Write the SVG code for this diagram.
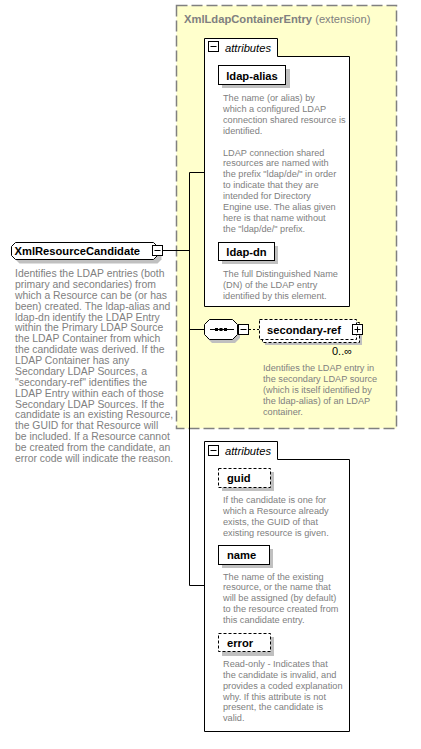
<svg xmlns="http://www.w3.org/2000/svg" width="421" height="749" viewBox="0 0 421 749">
<style>
.name{font-family:"Liberation Sans",Arial,sans-serif;font-weight:bold;font-size:11.2px;fill:#000}
.desc{font-family:"Liberation Sans",Arial,sans-serif;font-size:9.2px;fill:#808080}
.descL{font-family:"Liberation Sans",Arial,sans-serif;font-size:10.4px;fill:#808080}
.attr{font-family:"Liberation Sans",Arial,sans-serif;font-style:italic;font-size:11.2px;fill:#000}
.box{fill:#fff;stroke:#000;stroke-width:1}
.dbox{fill:#fff;stroke:#000;stroke-width:1;stroke-dasharray:3,2}
.shadow{fill:#c0c0c0}
.ln{stroke:#000;stroke-width:1;fill:none}
.icon{fill:#fff;stroke:#000;stroke-width:1}
</style>
<rect width="421" height="749" fill="#fff"/>
<g id="XmlLdapContainerEntry">
<rect x="176.5" y="5.5" width="220" height="423" fill="#ffffcc" stroke="#808080" stroke-width="1.5" stroke-dasharray="11,4"/>
<text x="184" y="23" font-family="Liberation Sans,Arial,sans-serif" font-size="11.2px" fill="#808080"><tspan font-weight="bold">XmlLdapContainerEntry</tspan> (extension)</text>
</g>
<g id="connectors">
<line class="ln" x1="162.5" y1="250.5" x2="189.5" y2="250.5"/>
<line class="ln" x1="189.5" y1="172.5" x2="189.5" y2="585.5"/>
<line class="ln" x1="189.5" y1="172.5" x2="204" y2="172.5"/>
<line class="ln" x1="189.5" y1="329.5" x2="204" y2="329.5"/>
<line class="ln" x1="189.5" y1="585.5" x2="204" y2="585.5"/>
<line class="ln" x1="249" y1="329.5" x2="259" y2="329.5" stroke-dasharray="2,2"/>
</g>
<g id="XmlResourceCandidate">
<path class="shadow" d="M19.5,246.5 H157.5 L161.5,250.5 V259.5 L157.5,263.5 H19.5 L15.5,259.5 V250.5 Z"/>
<path class="box" d="M15.5,242.5 H153.5 L157.5,246.5 V255.5 L153.5,259.5 H15.5 L11.5,255.5 V246.5 Z"/>
<text class="name" x="14.5" y="255">XmlResourceCandidate</text>
<rect class="icon" x="152.5" y="245.5" width="10" height="10"/>
<line class="ln" x1="154.5" y1="250.5" x2="160.5" y2="250.5" stroke-width="1.5"/>
<text class="descL" x="15" y="277"><tspan x="15">Identifies the LDAP entries (both</tspan><tspan x="15" dy="10.88">primary and secondaries) from</tspan><tspan x="15" dy="10.88">which a Resource can be (or has</tspan><tspan x="15" dy="10.88">been) created. The ldap-alias and</tspan><tspan x="15" dy="10.88">ldap-dn identify the LDAP Entry</tspan><tspan x="15" dy="10.88">within the Primary LDAP Source</tspan><tspan x="15" dy="10.88">the LDAP Container from which</tspan><tspan x="15" dy="10.88">the candidate was derived. If the</tspan><tspan x="15" dy="10.88">LDAP Container has any</tspan><tspan x="15" dy="10.88">Secondary LDAP Sources, a</tspan><tspan x="15" dy="10.88">"secondary-ref" identifies the</tspan><tspan x="15" dy="10.88">LDAP Entry within each of those</tspan><tspan x="15" dy="10.88">Secondary LDAP Sources. If the</tspan><tspan x="15" dy="10.88">candidate is an existing Resource,</tspan><tspan x="15" dy="10.88">the GUID for that Resource will</tspan><tspan x="15" dy="10.88">be included. If a Resource cannot</tspan><tspan x="15" dy="10.88">be created from the candidate, an</tspan><tspan x="15" dy="10.88">error code will indicate the reason.</tspan></text>
</g>
<g id="attributes1">
<path class="box" d="M204.5,306.5 V38.5 H277.5 V56.5 H349.5 V306.5 Z"/>
<rect class="icon" x="208.5" y="41.5" width="10" height="10"/>
<line class="ln" x1="210.5" y1="46.5" x2="216.5" y2="46.5" stroke-width="1.5"/>
<text class="attr" x="225" y="52">attributes</text>
</g>
<g id="ldap-alias">
<rect class="shadow" x="222" y="69" width="68" height="19"/>
<rect class="box" x="218.5" y="65.5" width="67" height="19"/>
<text class="name" x="252" y="79.5" text-anchor="middle">ldap-alias</text>
<text class="desc" x="223" y="101"><tspan x="223">The name (or alias) by</tspan><tspan x="223" dy="10.9">which a configured LDAP</tspan><tspan x="223" dy="10.9">connection shared resource is</tspan><tspan x="223" dy="10.9">identified.</tspan><tspan x="223" dy="21.8">LDAP connection shared</tspan><tspan x="223" dy="10.9">resources are named with</tspan><tspan x="223" dy="10.9">the prefix "ldap/de/" in order</tspan><tspan x="223" dy="10.9">to indicate that they are</tspan><tspan x="223" dy="10.9">intended for Directory</tspan><tspan x="223" dy="10.9">Engine use. The alias given</tspan><tspan x="223" dy="10.9">here is that name without</tspan><tspan x="223" dy="10.9">the "ldap/de/" prefix.</tspan></text>
</g>
<g id="ldap-dn">
<rect class="shadow" x="222" y="246" width="56" height="18"/>
<rect class="box" x="218.5" y="242.5" width="56" height="18"/>
<text class="name" x="246.5" y="255.5" text-anchor="middle">ldap-dn</text>
<text class="desc" x="223" y="277"><tspan x="223">The full Distinguished Name</tspan><tspan x="223" dy="10.9">(DN) of the LDAP entry</tspan><tspan x="223" dy="10.9">identified by this element.</tspan></text>
</g>
<g id="sequence">
<path class="shadow" d="M212,323 H235 L240,328 V338 L235,343 H212 L207,338 V328 Z"/>
<path class="box" d="M209.5,319.5 H232.5 L237.5,324.5 V334.5 L232.5,339.5 H209.5 L204.5,334.5 V324.5 Z"/>
<line class="ln" x1="210" y1="329.5" x2="234" y2="329.5"/>
<rect x="215" y="328" width="3" height="3" fill="#000"/>
<rect x="219.5" y="328" width="3" height="3" fill="#000"/>
<rect x="224" y="328" width="3" height="3" fill="#000"/>
<rect class="icon" x="238.5" y="324.5" width="10" height="10"/>
<line class="ln" x1="240.5" y1="329.5" x2="246.5" y2="329.5" stroke-width="1.5"/>
</g>
<g id="secondary-ref">
<rect class="shadow" x="265" y="324" width="97" height="21"/>
<rect class="dbox" x="262.5" y="322.5" width="97" height="20"/>
<rect class="dbox" x="259.5" y="319.5" width="97" height="20"/>
<text class="name" x="267" y="334">secondary-ref</text>
<rect class="icon" x="352.5" y="324.5" width="10" height="10"/>
<line class="ln" x1="354.5" y1="329.5" x2="360.5" y2="329.5" stroke-width="1.5"/>
<line class="ln" x1="357.5" y1="326.5" x2="357.5" y2="332.5" stroke-width="1.5"/>
<text x="332" y="355" font-family="Liberation Sans,Arial,sans-serif" font-size="11px" fill="#000">0..∞</text>
<text class="desc" x="263" y="371"><tspan x="263">Identifies the LDAP entry in</tspan><tspan x="263" dy="10.9">the secondary LDAP source</tspan><tspan x="263" dy="10.9">(which is itself identified by</tspan><tspan x="263" dy="10.9">the ldap-alias) of an LDAP</tspan><tspan x="263" dy="10.9">container.</tspan></text>
</g>
<g id="attributes2">
<path class="box" d="M204.5,731.5 V441.5 H277.5 V459.5 H349.5 V731.5 Z"/>
<rect class="icon" x="208.5" y="445.5" width="10" height="10"/>
<line class="ln" x1="210.5" y1="450.5" x2="216.5" y2="450.5" stroke-width="1.5"/>
<text class="attr" x="225" y="455">attributes</text>
</g>
<g id="guid">
<rect class="shadow" x="222" y="472" width="52" height="19"/>
<rect class="dbox" x="218.5" y="468.5" width="52" height="19"/>
<text class="name" x="227" y="482">guid</text>
<text class="desc" x="223" y="503"><tspan x="223">If the candidate is one for</tspan><tspan x="223" dy="10.9">which a Resource already</tspan><tspan x="223" dy="10.9">exists, the GUID of that</tspan><tspan x="223" dy="10.9">existing resource is given.</tspan></text>
</g>
<g id="name">
<rect class="shadow" x="222" y="549" width="51" height="19"/>
<rect class="box" x="218.5" y="545.5" width="51" height="19"/>
<text class="name" x="227" y="559">name</text>
<text class="desc" x="223" y="579.5"><tspan x="223">The name of the existing</tspan><tspan x="223" dy="10.9">resource, or the name that</tspan><tspan x="223" dy="10.9">will be assigned (by default)</tspan><tspan x="223" dy="10.9">to the resource created from</tspan><tspan x="223" dy="10.9">this candidate entry.</tspan></text>
</g>
<g id="error">
<rect class="shadow" x="222" y="637" width="52" height="19"/>
<rect class="dbox" x="218.5" y="633.5" width="52" height="18"/>
<text class="name" x="227" y="646.5">error</text>
<text class="desc" x="223" y="667"><tspan x="223">Read-only - Indicates that</tspan><tspan x="223" dy="10.85">the candidate is invalid, and</tspan><tspan x="223" dy="10.85">provides a coded explanation</tspan><tspan x="223" dy="10.85">why. If this attribute is not</tspan><tspan x="223" dy="10.85">present, the candidate is</tspan><tspan x="223" dy="10.85">valid.</tspan></text>
</g>
</svg>
